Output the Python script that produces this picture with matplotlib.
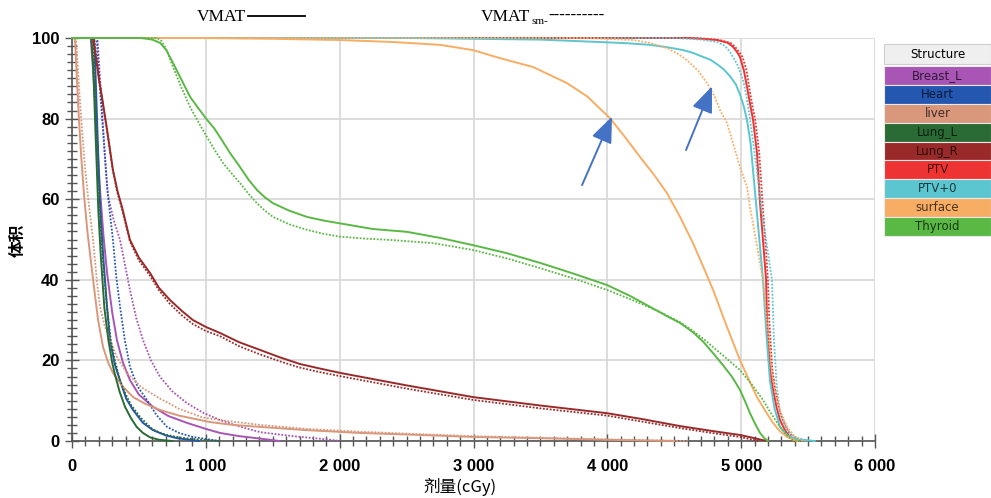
import numpy as np
import matplotlib
matplotlib.use("Agg")
import matplotlib.pyplot as plt
from matplotlib.patches import Rectangle
from matplotlib.ticker import MultipleLocator, FuncFormatter

# DVH curves: dose (cGy) / volume (%)
# solid = VMAT, dotted = VMAT_sm
breast_d = [0, 140, 158, 172, 190, 210, 235, 262, 300, 336, 380, 433, 500, 605, 720, 859, 1000, 1106, 1250, 1405, 1550]
breast_v = [100, 100, 92, 84, 73, 62, 51, 41.7, 32, 25, 19.5, 15.1, 11.5, 8.5, 6.2, 4.5, 3, 2, 1.2, 0.6, 0]
breast_sm_d = [0, 190, 210, 230, 250, 269, 310, 359, 433, 480, 531, 590, 658, 750, 859, 980, 1106, 1250, 1405, 1650, 1905, 2000]
breast_sm_v = [100, 100, 90, 79, 69, 61, 55, 49.9, 37.5, 30.5, 25, 20, 15.9, 12.3, 9.4, 7, 5.2, 3.6, 2.2, 1.2, 0.4, 0]

heart_d = [0, 165, 178, 190, 202, 215, 235, 260, 284, 320, 359, 405, 456, 530, 605, 700, 785, 950]
heart_v = [100, 100, 89, 77, 65, 55, 45, 34, 25, 19, 15, 10.5, 7.7, 4.5, 2.7, 1.4, 0.7, 0]
heart_sm_d = [0, 185, 205, 232, 262, 285, 306, 330, 359, 395, 433, 490, 560, 630, 710, 800, 904, 1100]
heart_sm_v = [100, 100, 89, 77, 63, 56, 49.9, 41, 33.3, 25, 18.4, 13.5, 10.2, 6.5, 3.5, 2, 1, 0]

liver_d = [0, 22, 35, 50, 68, 90, 115, 140, 165, 195, 232, 270, 306, 380, 456, 550, 658, 800, 1031, 1200, 1405, 1750, 2152, 2600, 3000, 3500, 4000, 4500]
liver_v = [100, 100, 91, 81, 71, 61, 52, 45, 38, 30, 23.3, 19.5, 16.9, 13.5, 10.9, 9.2, 7.7, 6.3, 4.7, 4, 3.5, 2.7, 2, 1.5, 1, 0.7, 0.3, 0]
liver_sm_d = [0, 30, 45, 60, 78, 97, 125, 157, 185, 209, 245, 284, 340, 411, 520, 658, 800, 979, 1200, 1405, 1750, 2152, 2600, 3000, 3500, 4000, 4600]
liver_sm_v = [100, 100, 92, 84, 76, 68, 59, 50, 40, 33.3, 28.5, 25, 20.5, 16.9, 13.3, 10.5, 8, 5.8, 4.8, 4, 3, 2.3, 1.7, 1.2, 0.8, 0.4, 0]

lungl_d = [0, 145, 158, 167, 175, 185, 197, 215, 242, 272, 300, 321, 355, 396, 440, 483, 530, 583, 650, 750]
lungl_v = [100, 100, 93, 85, 77, 68, 57, 46, 33, 25, 19.5, 16.5, 12.3, 8.5, 5.7, 3.5, 2, 0.9, 0.3, 0]
lungl_sm_d = [0, 155, 168, 178, 190, 207, 228, 262, 290, 320, 359, 400, 440, 508, 560, 600, 660, 710, 800, 900, 1100]
lungl_sm_v = [100, 100, 92, 83, 71, 58, 46, 33, 25, 20, 15, 11.7, 9, 6, 4.2, 3, 2, 1.5, 0.9, 0.5, 0]

lungr_d = [0, 157, 180, 200, 224, 262, 306, 340, 374, 433, 500, 583, 650, 732, 820, 904, 1000, 1106, 1250, 1405, 1550, 1704, 1850, 2003, 2500, 2996, 3500, 3998, 4267, 4543, 4800, 4991, 5100, 5163, 5200]
lungr_v = [100, 100, 95, 90, 85.4, 77.2, 67.2, 62, 58, 49.9, 45.5, 41.7, 38, 35, 32.3, 30, 28.3, 26.8, 24.5, 22.6, 20.8, 19.1, 18, 16.9, 13.8, 10.9, 8.8, 6.9, 5.4, 3.7, 2.4, 1.5, 0.7, 0.2, 0]
lungr_sm_d = [0, 165, 190, 224, 262, 306, 340, 374, 433, 500, 583, 650, 732, 820, 904, 1000, 1106, 1250, 1405, 1550, 1704, 1850, 2003, 2500, 2996, 3500, 3998, 4543, 4800, 4991, 5130]
lungr_sm_v = [100, 100, 93, 85, 77, 67, 61.5, 57.5, 49.5, 44.8, 41, 37.4, 34, 31.2, 29, 27.3, 26, 23.5, 21.5, 19.8, 18.2, 17.1, 16.1, 13, 10.2, 8.1, 6.3, 3.2, 1.9, 1, 0]

ptv_d = [0, 4600, 4700, 4820, 4900, 4939, 4970, 4991, 5020, 5044, 5070, 5089, 5118, 5141, 5165, 5186, 5193, 5215, 5238, 5265, 5290, 5330, 5365, 5400]
ptv_v = [100, 100, 99.8, 99.5, 98.8, 97.8, 96.5, 95.3, 92, 87.8, 83, 79.7, 71.5, 59, 49, 40, 30, 18, 12.7, 8.3, 5.2, 2.5, 1, 0]
ptv_sm_d = [0, 4650, 4750, 4840, 4920, 4955, 4985, 5010, 5040, 5060, 5085, 5105, 5135, 5160, 5182, 5200, 5210, 5232, 5255, 5282, 5310, 5350, 5385, 5420]
ptv_sm_v = [100, 100, 99.8, 99.5, 98.8, 97.8, 96.5, 95.3, 92, 87.8, 83, 79.7, 71.5, 59, 49, 40, 30, 18, 12.7, 8.3, 5.2, 2.5, 1, 0]

ptv0_d = [0, 2500, 3500, 3945, 4150, 4319, 4450, 4566, 4640, 4700, 4770, 4820, 4870, 4917, 4960, 4991, 5020, 5044, 5070, 5089, 5125, 5163, 5190, 5215, 5250, 5290, 5340, 5400, 5550]
ptv0_v = [100, 100, 99.6, 99, 98.7, 98.3, 97.7, 97, 96.3, 95.5, 94.6, 93.5, 92.2, 90.5, 88.5, 86, 83, 79.5, 74, 67, 54, 40, 26, 15, 8, 3.5, 1.5, 0.5, 0]
ptv0_sm_d = [0, 4500, 4700, 4820, 4880, 4917, 4970, 5014, 5040, 5066, 5090, 5118, 5150, 5190, 5230, 5245, 5265, 5290, 5340, 5390, 5500]
ptv0_sm_v = [100, 100, 99.6, 99, 98, 96.5, 93.5, 89.6, 85.5, 80, 74, 67, 58, 49, 40, 25, 14, 7, 3, 1, 0]

surface_d = [0, 950, 1500, 2003, 2400, 2750, 2996, 3198, 3445, 3699, 3850, 4020, 4130, 4244, 4350, 4446, 4545, 4640, 4720, 4790, 4894, 4991, 5060, 5118, 5180, 5238, 5290, 5343, 5417]
surface_v = [100, 100, 99.8, 99.5, 99, 98.3, 97, 95, 92.8, 88.8, 85.5, 80.1, 75.5, 70.5, 66, 61.5, 55.5, 49.1, 43, 37.5, 28.3, 20.1, 15, 10.9, 7.5, 4.5, 2.4, 1, 0]
surface_sm_d = [0, 3500, 3900, 4192, 4330, 4446, 4530, 4595, 4680, 4745, 4800, 4842, 4894, 4939, 4991, 5044, 5066, 5110, 5163, 5200, 5238, 5290, 5343, 5400, 5440, 5480]
surface_sm_v = [100, 100, 99.9, 99.5, 98.7, 97.5, 96, 94.5, 91.8, 88.8, 85.6, 82.1, 78.9, 73.9, 68, 63, 58, 50, 40, 27, 15, 7.5, 3.5, 1.2, 0.2, 0]

thyroid_d = [0, 510, 560, 600, 658, 705, 755, 820, 882, 950, 1009, 1060, 1106, 1180, 1255, 1320, 1382, 1440, 1502, 1620, 1756, 1880, 2003, 2249, 2503, 2750, 2996, 3250, 3497, 3750, 3998, 4170, 4319, 4450, 4543, 4640, 4720, 4790, 4860, 4930, 4991, 5030, 5066, 5105, 5141, 5170, 5200]
thyroid_v = [100, 100, 99.8, 99.6, 98.8, 97, 93.8, 89.5, 85.4, 82.3, 79.7, 77.7, 75.4, 71.5, 68, 64.8, 62.3, 60.5, 59, 57.2, 55.6, 54.7, 54, 52.6, 51.9, 50.4, 48.6, 46.6, 44.2, 41.5, 38.7, 36, 33.3, 30.9, 29.3, 27, 24.5, 21.8, 19, 16, 12.7, 9.8, 6.9, 4.2, 2, 0.8, 0]
thyroid_sm_d = [0, 635, 668, 700, 755, 820, 882, 950, 1009, 1070, 1128, 1190, 1255, 1320, 1382, 1440, 1502, 1620, 1756, 1880, 2003, 2200, 2376, 2698, 2996, 3250, 3497, 3750, 3998, 4200, 4394, 4543, 4640, 4720, 4790, 4890, 4991, 5080, 5163, 5230, 5290, 5340, 5387, 5450]
thyroid_sm_v = [100, 100, 99.3, 97.5, 92.8, 87.5, 82.9, 78.8, 75.4, 72, 69, 66.5, 64, 61.3, 59, 57.2, 55.6, 53.8, 52.4, 51.4, 50.7, 50.2, 49.9, 49.1, 47.4, 45.3, 42.9, 40.3, 37.5, 34.8, 32, 29.5, 27.3, 25.3, 23.3, 20.5, 17.6, 14, 10.2, 6.5, 3.5, 1.5, 0.2, 0]

structures = ["Breast_L", "Heart", "liver", "Lung_L", "Lung_R", "PTV", "PTV+0", "surface", "Thyroid"]
colors = ["#a855b5", "#2457b0", "#d9977b", "#2a6a35", "#9a2a2a", "#ee3333", "#5cc6d0", "#f8ad64", "#5ab844"]
solid = [(breast_d, breast_v), (heart_d, heart_v), (liver_d, liver_v), (lungl_d, lungl_v),
         (lungr_d, lungr_v), (ptv_d, ptv_v), (ptv0_d, ptv0_v), (surface_d, surface_v), (thyroid_d, thyroid_v)]
dotted = [(breast_sm_d, breast_sm_v), (heart_sm_d, heart_sm_v), (liver_sm_d, liver_sm_v), (lungl_sm_d, lungl_sm_v),
          (lungr_sm_d, lungr_sm_v), (ptv_sm_d, ptv_sm_v), (ptv0_sm_d, ptv0_sm_v), (surface_sm_d, surface_sm_v),
          (thyroid_sm_d, thyroid_sm_v)]

# arrows (tail, head) in data units
arrows = [((3811, 63.5), (4035, 80.5)), ((4588, 72.2), (4782, 88))]

fig = plt.figure(figsize=(9.91, 4.98), dpi=100)
ax = fig.add_axes([72 / 991, 1 - 441 / 498, (875 - 72) / 991, (441 - 38) / 498])

for (d, v), (ds, vs), c in zip(solid, dotted, colors):
    ax.plot(d, v, color=c, lw=1.4, solid_joinstyle="round", clip_on=False, zorder=3)
    ax.plot(ds, vs, color=c, lw=1.3, ls=(0, (1.0, 0.9)), clip_on=False, zorder=3)

for tail, head in arrows:
    ax.annotate("", xy=head, xytext=tail,
                arrowprops=dict(arrowstyle="-|>,head_length=1.6,head_width=0.65", color="#4472c4",
                                lw=1.4, shrinkA=0, shrinkB=0))

ax.set_xlim(0, 6000)
ax.set_ylim(0, 100)
ax.xaxis.set_major_locator(MultipleLocator(1000))
ax.xaxis.set_minor_locator(MultipleLocator(100))
ax.yaxis.set_major_locator(MultipleLocator(20))
ax.yaxis.set_minor_locator(MultipleLocator(2))
ax.xaxis.set_major_formatter(FuncFormatter(lambda x, p: f"{int(x):,}".replace(",", " ")))
ax.grid(True, which="major", color="#dadada", lw=1.3, zorder=0)
ax.set_axisbelow(True)
for s in ["top", "right"]:
    ax.spines[s].set_visible(False)
for s in ["left", "bottom"]:
    ax.spines[s].set_color("#555555")
    ax.spines[s].set_linewidth(1.2)
ax.tick_params(which="major", direction="inout", length=10, width=1, color="#555555")
ax.tick_params(which="minor", direction="inout", length=7, width=1, color="#555555")
for lbl in ax.get_xticklabels() + ax.get_yticklabels():
    lbl.set_fontfamily("Liberation Sans")
    lbl.set_fontweight("bold")
    lbl.set_fontsize(12)
ax.tick_params(axis="x", pad=8)
ax.tick_params(axis="y", pad=4)

cjk = ["Noto Sans CJK SC", "DejaVu Sans"]
fig.text(460 / 991, 1 - 487 / 498, "剂量(cGy)", family=cjk, fontsize=12, ha="center", va="center")
fig.text(18 / 991, 1 - 240 / 498, "体积", family=cjk, fontsize=12, ha="center", va="center",
         rotation=90, fontweight="bold")

# method labels on top
serif = "Liberation Serif"
fig.text(197 / 991, 1 - 17 / 498, "VMAT", family=serif, fontsize=12.5, ha="left", va="center")
fig.add_artist(plt.Line2D([248 / 991, 305 / 991], [1 - 16 / 498] * 2, color="black", lw=1.3))
fig.text(481 / 991, 1 - 17 / 498, "VMAT", family=serif, fontsize=12.5, ha="left", va="center")
fig.text(532 / 991, 1 - 21 / 498, "sm-", family=serif, fontsize=8, ha="left", va="center")
fig.text(548 / 991, 1 - 16 / 498, "----------", family=serif, fontsize=12, ha="left", va="center",
         fontweight="bold")

# structure table on the right
x0, x1 = 884, 991
fig.add_artist(Rectangle((x0 / 991, 1 - 64 / 498), (x1 - x0) / 991, 20 / 498, transform=fig.transFigure,
                         facecolor="#efefef", edgecolor="#cfcfcf", lw=0.8))
fig.text((x0 + x1) / 2 / 991, 1 - 54 / 498, "Structure", fontsize=8.5, ha="center", va="center")
row_h = 18.9
for i, (name, c) in enumerate(zip(structures, colors)):
    top = 66 + i * row_h
    fig.add_artist(Rectangle((x0 / 991, 1 - (top + row_h) / 498), (x1 - x0) / 991, row_h / 498,
                             transform=fig.transFigure, facecolor=c, edgecolor="#e8e8e8", lw=0.8))
    rgb = np.array(matplotlib.colors.to_rgb(c)) * 0.3
    fig.text((x0 + x1) / 2 / 991, 1 - (top + row_h / 2) / 498, name, fontsize=8.5, color=rgb,
             ha="center", va="center")

fig.savefig("out.png", dpi=100)
